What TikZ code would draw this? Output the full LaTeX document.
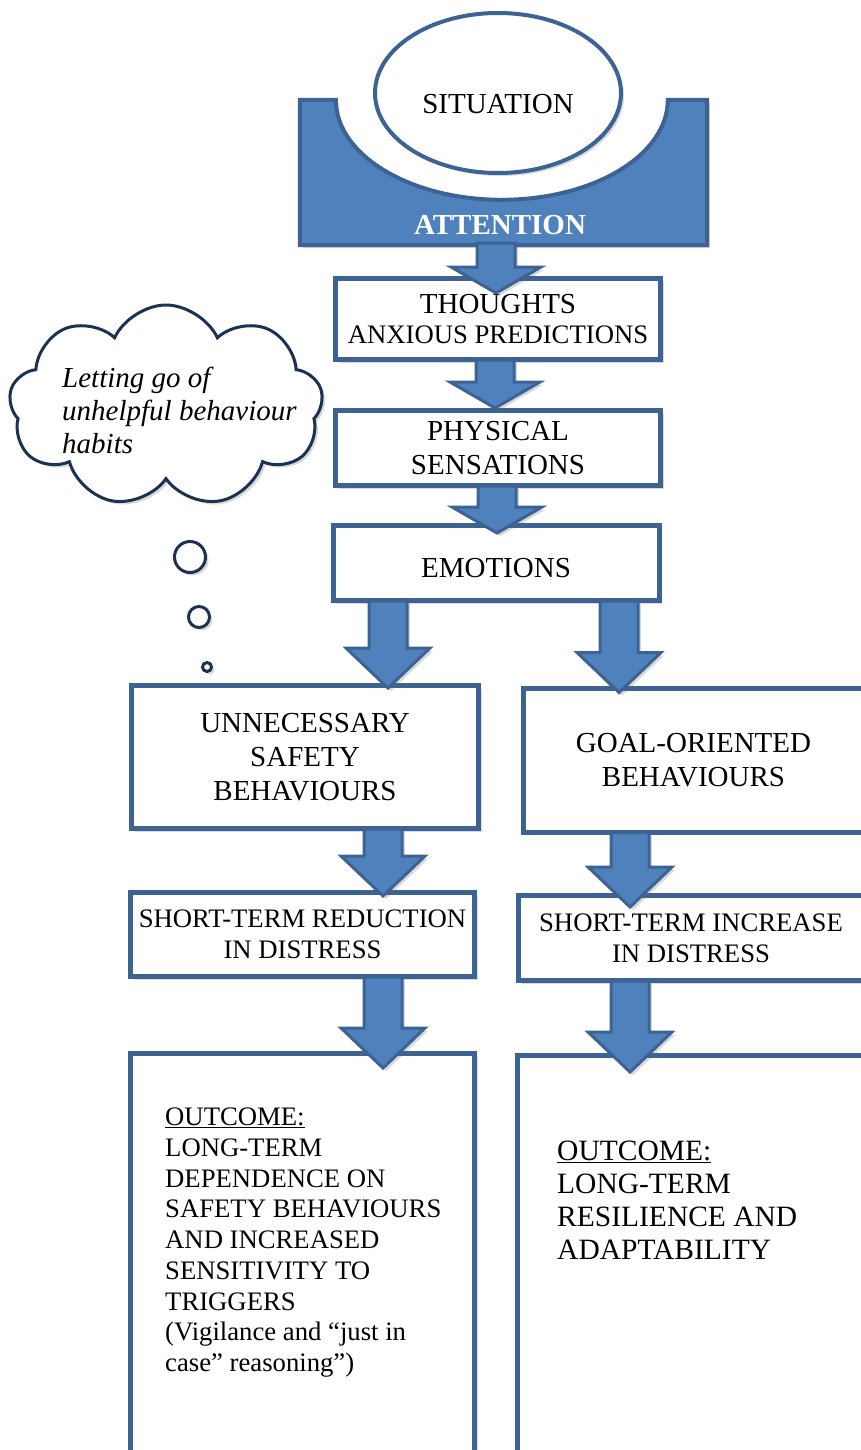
\documentclass[tikz,border=0pt]{standalone}
\usepackage{fontspec}
\setmainfont{Liberation Serif}
\usepackage{tikz}
\usepackage{xcolor}
\usetikzlibrary{shapes}
\usetikzlibrary{shadows}
\usetikzlibrary{calc}

\definecolor{boxblue}{HTML}{4F81BD}
\definecolor{boxedge}{HTML}{3C6393}
\definecolor{cloudedge}{HTML}{1B3252}

\newcommand{\boxfont}{\fontsize{29}{34}\selectfont}
\newcommand{\smallboxfont}{\fontsize{26.7}{31}\selectfont}
\def\headw{45}
\def\headl{26}
% block arrow: [tip overlap]{x}{from node}{to node}
\newcommand{\flowarrow}[4][0]{%
  \path[blockarrow] let \p1=(#3.south), \p2=(#4.north) in
    (#2-19,\y1+2) -- (#2-19,\y2-#1+\headl) -- (#2-\headw,\y2-#1+\headl)
    -- (#2,\y2-#1) -- (#2+\headw,\y2-#1+\headl) -- (#2+19,\y2-#1+\headl)
    -- (#2+19,\y1+2) -- cycle;}

\begin{document}
\begin{tikzpicture}[x=1pt,y=-1pt]
	\tikzstyle{softshadow}=[drop shadow={shadow xshift=3pt,shadow yshift=-3pt,opacity=.25,fill=black!60}]
	\tikzstyle{box}=[rectangle,draw=boxedge,line width=5pt,fill=white,align=center,inner sep=0pt,font=\boxfont,softshadow]
	\tikzstyle{blockarrow}=[draw=boxedge,line width=3pt,fill=boxblue,line join=miter,softshadow]
	\tikzstyle{bubble}=[circle,draw=cloudedge,line width=3pt,fill=white,inner sep=0pt,softshadow]
	\tikzstyle{outtext}=[anchor=north west,align=left,inner sep=0pt]

	\useasboundingbox (0,0) rectangle (861,1450);

	% attention tray and situation
	\node [inner sep=0pt,minimum width=407pt,minimum height=145pt] (attn) at (503.5,172.5) {};
	\path [draw=boxedge,line width=4pt,fill=boxblue,softshadow] (attn.north west) -- ++(36,0)
		arc [start angle=180,end angle=360,x radius=166pt,y radius=100pt]
		-- (attn.north east) -- (attn.south east) -- (attn.south west) -- cycle;
	\node [font=\boxfont\bfseries,text=white] (attnlabel) at (500,225) {ATTENTION};
	\node [ellipse,draw=boxedge,line width=4pt,fill=white,minimum width=246pt,minimum height=160pt,softshadow] (situation) at (498,93) {};
	\node [font=\boxfont] (sitlabel) at (498,104) {SITUATION};

	% chain
	\node [box,minimum width=325pt,minimum height=81pt] (thoughts) at (498,319) {THOUGHTS\\[-4pt]{\smallboxfont ANXIOUS PREDICTIONS}};
	\node [box,minimum width=325pt,minimum height=75pt] (physical) at (498,448) {PHYSICAL\\SENSATIONS};
	\node [box,minimum width=326pt,minimum height=75pt,text height=29pt,text depth=0pt] (emo) at (496,563) {EMOTIONS};

	\node [box,minimum width=347pt,minimum height=143pt] (unsafe) at (305,757) {UNNECESSARY\\SAFETY\\BEHAVIOURS};
	\node [box,minimum width=340pt,minimum height=144pt] (goal) at (693.5,760) {GOAL-ORIENTED\\BEHAVIOURS};
	\node [box,font=\smallboxfont,minimum width=344pt,minimum height=84pt] (reduce) at (302.5,934.5) {SHORT-TERM REDUCTION\\IN DISTRESS};
	\node [box,font=\smallboxfont,minimum width=345pt,minimum height=85pt] (increase) at (691,938) {SHORT-TERM INCREASE\\IN DISTRESS};
	\node [box,minimum width=344pt,minimum height=420pt] (outL) at (302.5,1263.5) {};
	\node [box,minimum width=346pt,minimum height=420pt] (outR) at (690.5,1265.5) {};

	\node [outtext,font=\fontsize{26.7}{30.7}\selectfont] (outLtext) at (165,1108) {\underline{OUTCOME:}\\LONG-TERM\\DEPENDENCE ON\\SAFETY BEHAVIOURS\\AND INCREASED\\SENSITIVITY TO\\TRIGGERS\\(Vigilance and “just in\\case” reasoning”)};
	\node [outtext,font=\fontsize{29.5}{33}\selectfont] (outRtext) at (557,1141) {\underline{OUTCOME:}\\LONG-TERM\\RESILIENCE AND\\ADAPTABILITY};

	% arrows
	\flowarrow[17]{496}{attn}{thoughts}
	\flowarrow[0]{495}{thoughts}{physical}
	\flowarrow[10]{497}{physical}{emo}
	\def\headw{42}\def\headl{40}
	\flowarrow[5]{388}{emo}{unsafe}
	\flowarrow[7]{619}{emo}{goal}
	\flowarrow[6]{383}{unsafe}{reduce}
	\flowarrow[14]{630}{goal}{increase}
	\flowarrow[17]{383}{reduce}{outL}
	\flowarrow[19]{630}{increase}{outR}

	% thought cloud
	\node [cloud,cloud puffs=9,cloud puff arc=130,draw=cloudedge,line width=3pt,fill=white,minimum width=314pt,minimum height=202pt,softshadow] (cloud) at (166,406) {};
	\node [outtext,font=\fontsize{29}{33}\selectfont\itshape] (cloudtext) at (62,367) {Letting go of\\unhelpful behaviour\\habits};
	\node [bubble,minimum size=31pt] (bub1) at (190,557) {};
	\node [bubble,minimum size=21pt] (bub2) at (199,617) {};
	\node [bubble,minimum size=9pt] (bub3) at (207,667) {};
\end{tikzpicture}
\end{document}
